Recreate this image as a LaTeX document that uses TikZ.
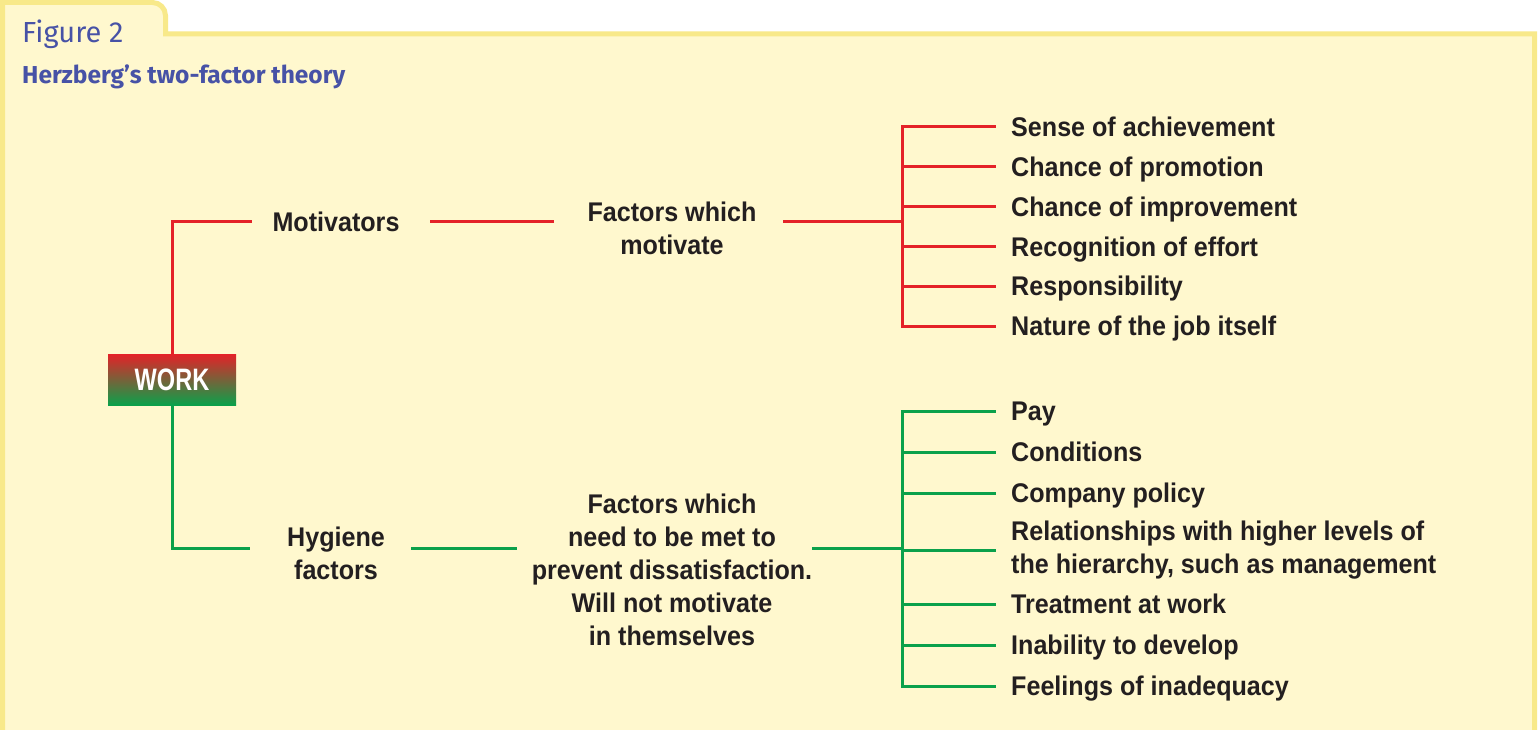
\documentclass[tikz,border=0pt]{standalone}
\usepackage{fontspec}
\setmainfont{Liberation Sans}
\newfontfamily\itemfont{Liberation Sans}[FakeStretch=0.93]
\newfontfamily\workfont{Liberation Sans}[FakeStretch=0.76]
\newfontfamily\headfont{Fira Sans}
\usetikzlibrary{positioning}
\definecolor{herzPaper}{HTML}{FFF8CE}
\definecolor{herzEdge}{HTML}{F8E98A}
\definecolor{herzBlue}{HTML}{4752A6}
\definecolor{herzInk}{HTML}{231F20}
\definecolor{herzRed}{HTML}{E42228}
\definecolor{herzGreen}{HTML}{0BA14B}
\begin{document}
\begin{tikzpicture}[x=1pt,y=-1pt,line join=miter]
\useasboundingbox (0,0) rectangle (1540,730);
\path[fill=white] (0,0) rectangle (1540,730);
% folder frame with tab
\path[fill=herzPaper,draw=herzEdge,line width=5pt] (2.5,740) -- (2.5,2.5) -- (152.5,2.5) arc[start angle=-90,end angle=0,radius=13] -- (165.5,34) -- (1534.5,34) -- (1534.5,740);
\node[anchor=west,text=herzBlue,font=\headfont\fontsize{29}{34}\selectfont,inner sep=0pt] (fig) at (22,34) {Figure 2};
\node[anchor=west,text=herzBlue,font=\headfont\bfseries\fontsize{24.5}{29}\selectfont,inner sep=0pt] (title) at (22,77) {Herzberg’s two-factor theory};
\tikzset{itemtext/.style={font=\itemfont\bfseries\fontsize{27}{33}\selectfont,text=herzInk,inner sep=0pt,anchor=west,text height=19.4pt,text depth=0pt},midtext/.style={font=\itemfont\bfseries\fontsize{27}{33}\selectfont,text=herzInk,inner sep=0pt,align=center},redline/.style={draw=herzRed,line width=3pt,line cap=rect},greenline/.style={draw=herzGreen,line width=3pt,line cap=rect},workbox/.style={top color=herzRed,bottom color=herzGreen,minimum width=128pt,minimum height=51pt,inner sep=0pt,text=white,font=\workfont\bfseries\fontsize{31}{32}\selectfont}}
\node[workbox] (work) at (172,379.5) {WORK};
% motivators
\node[midtext] (motiv) at (336,222) {Motivators};
\node[midtext] (mfac) at (672,228) {Factors which\\motivate};
\coordinate (mj) at (902,222);
\draw[redline] (work.north) |- ([xshift=-22pt]motiv.west);
\draw[redline] ([xshift=32pt]motiv.east) -- ([xshift=-35pt]mfac.west |- mj);
\draw[redline] ([xshift=28pt]mfac.east |- mj) -- (mj);
\foreach \txt [count=\i] in {Sense of achievement,Chance of promotion,Chance of improvement,Recognition of effort,Responsibility,Nature of the job itself}
  \node[itemtext] (m\i) at (1011,127+39.8*\i-39.8) {\txt};
\draw[redline] (mj |- m1.west) -- (mj |- m6.west);
\foreach \i in {1,...,6} \draw[redline] (mj |- m\i.west) -- ([xshift=-17pt]m\i.west);
% hygiene factors
\node[midtext] (hyg) at (336,553.5) {Hygiene\\factors};
\node[midtext] (hfac) at (672,570) {Factors which\\need to be met to\\prevent dissatisfaction.\\Will not motivate\\in themselves};
\coordinate (gj) at (902,548);
\draw[greenline] (work.south) |- ([xshift=-38pt]hyg.west |- gj);
\draw[greenline] ([xshift=27pt]hyg.east |- gj) -- ([xshift=-16pt]hfac.west |- gj);
\draw[greenline] ([xshift=1pt]hfac.east |- gj) -- (gj);
\node[itemtext] (h1) at (1011,411) {Pay};
\node[itemtext] (h2) at (1011,452) {Conditions};
\node[itemtext] (h3) at (1011,493) {Company policy};
\node[itemtext,text height=,text depth=,align=left] (h4) at (1011,550) {Relationships with higher levels of\\the hierarchy, such as management};
\node[itemtext] (h5) at (1011,604) {Treatment at work};
\node[itemtext] (h6) at (1011,645) {Inability to develop};
\node[itemtext] (h7) at (1011,686) {Feelings of inadequacy};
\draw[greenline] (gj |- h1.west) -- (gj |- h7.west);
\foreach \i in {1,...,7} \draw[greenline] (gj |- h\i.west) -- ([xshift=-17pt]h\i.west);
\end{tikzpicture}
\end{document}
